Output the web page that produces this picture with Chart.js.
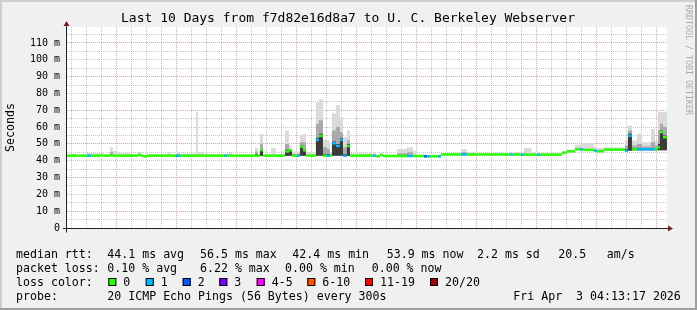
<!DOCTYPE html>
<html>
<head>
<meta charset="utf-8">
<script src="https://cdn.jsdelivr.net/npm/chart.js@4.4.0/dist/chart.umd.min.js"></script>
<style>
    html, body { margin: 0; padding: 0; background: #f0f0f0; }
    canvas { display: block; }
</style>
</head>
<body>
<canvas id="grafico-ping" width="697" height="310"></canvas>
<script>
// hours counted from 24 Mar 00:00, each value holds until the next sample
const hours = [4.2, 8.0, 12.2, 13.8, 17.8, 18.4, 21.4, 22.6, 24.6, 29.4, 32.6, 33.8, 34.6, 36.2, 44.2, 45.8, 47.8, 49.4, 55.8, 56.6, 59.0,
    67.0, 68.2, 70.6, 79.4, 80.6, 81.4, 82.6, 85.8, 87.8, 91.4, 93.0, 94.2, 96.2, 97.4, 98.6, 99.8, 103.8, 105.0, 106.6, 108.2, 109.4, 110.2, 111.8, 113.4, 114.6, 116.2, 117.4,
    126.6, 127.8, 129.4, 130.6, 136.2, 140.2, 142.6, 144.2, 147.0, 148.2, 149.4, 152.6, 153.8, 161.8, 164.2, 168.0, 181.4, 182.6,
    185.8, 187.0, 190.0, 192.2, 193.4, 202.2, 204.2, 207.4, 209.4, 210.6, 215.0, 216.2, 219.0, 227.4, 228.6, 230.2, 232.2, 234.2, 237.8, 239.4, 240.6, 241.4, 242.6, 244.2]

// median rtt in ms
const median = [43.0, 43.0, 43.0, 43.0, 43.5, 43.0, 43.3, 43.0, 43.0, 43.0, 43.5, 43.0, 42.6, 43.0, 43.0, 43.0, 43.0, 43.0, 43.0, 43.0, 43.0,
    43.0, 43.0, 43.0, 43.0, 43.0, 46.4, 43.0, 43.0, 43.0, 45.5, 46.2, 43.0, 43.0, 48.4, 46.2, 43.0, 52.4, 54.8, 43.0, 43.0, 43.0, 50.4, 48.8, 52.4, 43.0, 48.8, 43.0,
    43.0, 42.6, 43.5, 42.8, 42.8, 42.8, 42.8, 42.8, 42.6, 42.6, 42.6, 42.6, 43.7, 43.7, 43.7, 43.7, 43.7, 43.7,
    43.6, 43.6, 43.6, 43.6, 43.6, 44.8, 45.6, 46.8, 46.8, 46.4, 46.0, 45.6, 46.6, 46.0, 54.8, 46.8, 46.8, 46.8, 46.8, 46.8, 48.0, 57.0, 54.0, 54.0]

// lost pings out of 20
const loss = [0, 0, 1, 0, 0, 0, 0, 0, 0, 0, 0, 0, 0, 0, 0, 0, 1, 0, 0, 0, 0,
    1, 0, 0, 0, 0, 0, 0, 0, 0, 0, 0, 0, 1, 0, 0, 0, 1, 0, 0, 1, 0, 1, 1, 1, 1, 0, 0,
    1, 0, 0, 0, 0, 1, 0, 0, 2, 1, 0, 1, 0, 1, 0, 0, 1, 0,
    1, 0, 0, 1, 0, 0, 0, 0, 1, 0, 1, 0, 0, 1, 1, 0, 1, 1, 1, 0, 0, 0, 0, 0]

// smoke (ms): lowest ping, dense core, upper half, highest ping
const smokeLow = [42.6, 42.6, 42.6, 42.6, 42.6, 42.6, 42.6, 42.6, 42.6, 42.6, 42.6, 42.6, 42.2, 42.6, 42.6, 42.6, 42.6, 42.6, 42.6, 42.6, 42.6,
    42.6, 42.6, 42.6, 42.6, 42.6, 43.0, 42.6, 42.6, 42.6, 43.0, 43.0, 42.6, 42.6, 43.0, 43.0, 42.6, 43.0, 43.0, 42.6, 42.6, 42.6, 43.0, 43.0, 43.0, 42.6, 43.0, 42.6,
    42.6, 42.2, 42.6, 42.4, 42.4, 42.4, 42.4, 42.4, 42.2, 42.2, 42.2, 42.2, 43.3, 43.3, 43.3, 43.3, 43.3, 43.3,
    43.2, 43.2, 43.2, 43.2, 43.2, 44.4, 45.0, 46.2, 46.2, 45.8, 45.4, 45.0, 46.0, 45.6, 46.0, 46.2, 46.2, 46.2, 46.2, 46.2, 46.2, 46.2, 46.2, 46.2]

const smokeDense = [42.6, 42.6, 42.6, 42.6, 42.6, 42.6, 42.6, 42.6, 42.6, 42.6, 42.6, 42.6, 42.2, 42.6, 42.6, 42.6, 43.4, 42.6, 42.6, 42.6, 42.6,
    42.6, 42.6, 42.6, 44.0, 42.6, 47.0, 42.6, 42.6, 42.6, 46.5, 46.5, 42.6, 42.6, 49.0, 47.0, 42.6, 53.5, 56.0, 44.0, 44.0, 42.6, 51.5, 50.0, 53.5, 44.0, 50.0, 42.6,
    42.6, 42.2, 42.6, 42.4, 42.4, 42.4, 42.4, 42.4, 42.2, 42.2, 42.2, 42.2, 43.3, 43.3, 43.3, 43.3, 43.3, 43.3,
    43.2, 43.2, 43.2, 43.2, 43.2, 44.4, 45.0, 46.2, 46.2, 45.8, 45.4, 45.0, 46.0, 47.0, 56.0, 47.5, 47.5, 47.5, 47.5, 47.5, 50.0, 58.0, 55.0, 55.0]

const smokeUpper = [42.6, 42.6, 42.6, 42.6, 42.6, 42.6, 45.0, 42.6, 42.6, 42.6, 42.6, 42.6, 42.2, 42.6, 42.6, 42.6, 43.8, 42.6, 42.6, 42.6, 42.6,
    42.6, 42.6, 42.6, 45.5, 42.6, 50.0, 42.6, 42.6, 42.6, 50.0, 47.0, 44.0, 44.0, 51.0, 51.0, 42.6, 62.0, 64.0, 48.0, 47.0, 42.6, 58.0, 60.0, 57.0, 48.0, 52.0, 42.6,
    42.6, 42.2, 42.6, 42.4, 44.5, 45.0, 42.4, 42.4, 42.2, 42.2, 42.2, 42.2, 43.3, 45.0, 43.3, 43.3, 43.3, 43.3,
    43.2, 43.2, 43.2, 43.2, 43.2, 44.4, 45.0, 46.2, 46.2, 45.8, 45.4, 45.0, 46.0, 49.0, 58.0, 49.0, 50.0, 48.5, 51.0, 49.0, 58.0, 62.0, 60.0, 60.0]

const smokeHigh = [44.2, 43.6, 44.6, 44.4, 44.0, 43.8, 48.0, 45.8, 44.6, 44.0, 45.2, 44.0, 43.4, 43.8, 45.0, 44.0, 44.6, 44.3, 69.0, 45.0, 44.0,
    44.0, 44.6, 43.6, 47.4, 44.0, 56.0, 44.0, 47.5, 44.0, 58.0, 49.0, 45.5, 45.0, 55.0, 56.0, 45.0, 74.6, 76.6, 52.4, 52.0, 45.0, 68.0, 73.0, 65.5, 54.0, 58.0, 44.5,
    45.0, 44.0, 44.0, 43.5, 47.0, 48.0, 46.0, 43.5, 43.5, 43.5, 43.5, 43.5, 44.3, 47.0, 45.0, 44.2, 44.5, 45.0,
    44.5, 47.5, 44.5, 44.5, 44.5, 45.5, 46.5, 49.5, 50.0, 50.4, 48.0, 47.5, 47.8, 52.0, 61.0, 52.0, 56.0, 51.0, 59.0, 52.0, 69.0, 69.0, 69.0, 69.0]

const dayLabels = ["24 Mar", "25 Mar", "26 Mar", "27 Mar", "28 Mar", "29 Mar", "30 Mar", "31 Mar", "01 Apr", "02 Apr"]
const yTickValues = [0, 10, 20, 30, 40, 50, 60, 70, 80, 90, 100, 110]
const yTickLabels = ["0", "10 m", "20 m", "30 m", "40 m", "50 m", "60 m", "70 m", "80 m", "90 m", "100 m", "110 m"]

const lossNames = ["0", "1", "2", "3", "4-5", "6-10", "11-19", "20/20"]
const lossColors = ["#26ff00", "#00b8ff", "#0059ff", "#7e00ff", "#ff00ff", "#ff5500", "#ff0000", "#a10000"]

const title = "Last 10 Days from f7d82e16d8a7 to U. C. Berkeley Webserver"
const rttStats = ["44.1 ms avg", "56.5 ms max", "42.4 ms min", "53.9 ms now", "2.2 ms sd", "20.5", "am/s"]
const lossStats = ["0.10 % avg", "6.22 % max", "0.00 % min", "0.00 % now"]
const probeText = "20 ICMP Echo Pings (56 Bytes) every 300s"
const stampText = "Fri Apr  3 04:13:17 2026"

const startHour = 4.22
const endHour = 244.22

const lossClass = n => n <= 3 ? n : n <= 5 ? 4 : n <= 10 ? 5 : n <= 19 ? 6 : 7
const pts = arr => hours.map((h, i) => ({ x: h, y: arr[i] }))

// median drawn as separate flat dashes, no vertical joins
const medianPts = []
hours.forEach((h, i) => {
    const next = i < hours.length - 1 ? hours[i + 1] : endHour
    medianPts.push({ x: h, y: median[i] }, { x: next, y: median[i] }, { x: next, y: null })
})

const mono = '"DejaVu Sans Mono", monospace'

const gridHours = []
for (let h = 6; h <= 240; h += 6) gridHours.push(h)
const yGrid = []
for (let v = 0; v <= 115; v += 5) yGrid.push(v)

const moldura = {
    id: 'moldura',
    beforeDraw(chart) {
        const { ctx, chartArea: a } = chart
        ctx.save()
        ctx.fillStyle = '#f0f0f0'
        ctx.fillRect(0, 0, 697, 310)
        ctx.fillStyle = '#cfcfcf'
        ctx.fillRect(0, 0, 697, 2)
        ctx.fillRect(0, 0, 2, 310)
        ctx.fillStyle = '#9e9e9e'
        ctx.fillRect(0, 308, 697, 2)
        ctx.fillRect(695, 0, 2, 310)
        ctx.fillStyle = '#ffffff'
        ctx.fillRect(a.left, a.top, a.right - a.left, a.bottom - a.top)
        ctx.restore()
    },
    afterDraw(chart) {
        const { ctx, chartArea: a } = chart
        const y0 = Math.round(chart.scales.y.getPixelForValue(0)) + 0.5
        const x0 = a.left - 0.5
        ctx.save()

        // axes
        ctx.strokeStyle = '#202020'
        ctx.lineWidth = 1
        ctx.beginPath()
        ctx.moveTo(a.left - 4, y0)
        ctx.lineTo(a.right + 2, y0)
        ctx.moveTo(x0, y0 + 4)
        ctx.lineTo(x0, a.top - 2)
        ctx.stroke()

        // arrows
        ctx.fillStyle = '#7f1f1f'
        ctx.beginPath()
        ctx.moveTo(x0, a.top - 6)
        ctx.lineTo(x0 - 3, a.top - 1)
        ctx.lineTo(x0 + 3, a.top - 1)
        ctx.closePath()
        ctx.fill()
        ctx.beginPath()
        ctx.moveTo(a.right + 6, y0)
        ctx.lineTo(a.right + 1, y0 - 3)
        ctx.lineTo(a.right + 1, y0 + 3)
        ctx.closePath()
        ctx.fill()

        // title
        ctx.fillStyle = '#000'
        ctx.textBaseline = 'middle'
        ctx.textAlign = 'center'
        ctx.font = '13px ' + mono
        ctx.fillText(title, 348, 19)

        // y axis name
        ctx.save()
        ctx.translate(11, (a.top + a.bottom) / 2)
        ctx.rotate(-Math.PI / 2)
        ctx.font = '11.6px ' + mono
        ctx.fillText('Seconds', 0, 0)
        ctx.restore()

        // watermark
        ctx.save()
        ctx.translate(688, 5)
        ctx.rotate(Math.PI / 2)
        ctx.textAlign = 'left'
        ctx.fillStyle = '#ababab'
        ctx.font = '8.3px ' + mono
        ctx.fillText('RRDTOOL / TOBI OETIKER', 0, 0)
        ctx.restore()

        // legend
        ctx.textAlign = 'left'
        ctx.font = '11.6px ' + mono
        ctx.fillStyle = '#000'
        ctx.fillText('median rtt:', 16, 254.5)
        const rttX = [107.3, 200, 292.3, 386.7, 477, 558.3, 606.7]
        rttStats.forEach((t, i) => ctx.fillText(t, rttX[i], 254.5))

        ctx.fillText('packet loss:', 16, 268.5)
        const lossX = [107.3, 200, 285, 371.7]
        lossStats.forEach((t, i) => ctx.fillText(t, lossX[i], 268.5))

        ctx.fillText('loss color:', 16, 282.5)
        const boxX = [108.3, 145.7, 182.7, 219.3, 256.7, 307.3, 365, 430]
        lossNames.forEach((t, i) => {
            ctx.fillStyle = lossColors[i]
            ctx.fillRect(boxX[i], 278, 8, 8)
            ctx.strokeStyle = '#000'
            ctx.strokeRect(boxX[i] + 0.5, 278.5, 7, 7)
            ctx.fillStyle = '#000'
            ctx.fillText(t, boxX[i] + 15, 282.5)
        })

        ctx.fillText('probe:', 16, 296.5)
        ctx.fillText(probeText, 107.3, 296.5)
        ctx.fillText(stampText, 513.3, 296.5)
        ctx.restore()
    }
}

const smokeBase = {
    pointRadius: 0,
    pointHoverRadius: 0,
    borderWidth: 0,
    borderColor: 'transparent',
    stepped: true
}

let myChartPing = new Chart(
    document.getElementById("grafico-ping"),
    {
        type: "line",
        data: {
            datasets: [{
                label: "median",
                data: medianPts,
                pointRadius: 0,
                pointHoverRadius: 0,
                borderWidth: 2.5,
                borderCapStyle: 'butt',
                spanGaps: false,
                fill: false,
                segment: {
                    borderColor: c => lossColors[lossClass(loss[Math.floor(c.p0DataIndex / 3)])]
                }
            }, {
                ...smokeBase,
                label: "smoke dense",
                data: pts(smokeDense),
                fill: 4,
                backgroundColor: 'rgba(40, 40, 40, 0.85)'
            }, {
                ...smokeBase,
                label: "smoke upper",
                data: pts(smokeUpper),
                fill: 4,
                backgroundColor: '#a9a9a9'
            }, {
                ...smokeBase,
                label: "smoke",
                data: pts(smokeHigh),
                fill: 4,
                backgroundColor: '#dadada'
            }, {
                ...smokeBase,
                label: "smoke low",
                data: pts(smokeLow),
                fill: false
            }]
        },
        options: {
            responsive: false,
            animation: false,
            devicePixelRatio: 1,
            layout: { padding: { top: 27, right: 30, bottom: 82, left: 0 } },
            plugins: {
                legend: { display: false },
                tooltip: { enabled: false }
            },
            scales: {
                x: {
                    type: 'linear',
                    min: startHour,
                    max: endHour,
                    afterBuildTicks: s => { s.ticks = gridHours.map(v => ({ value: v })) },
                    afterFit: s => { s.height = 0 },
                    grid: {
                        drawTicks: false,
                        color: c => c.tick && c.tick.value % 24 === 0 ? 'rgba(215, 90, 90, 0.55)' : 'rgba(140, 140, 140, 0.5)'
                    },
                    border: { display: false, dash: [1, 1] },
                    ticks: {
                        autoSkip: false,
                        maxRotation: 0,
                        padding: 5,
                        color: '#000',
                        font: { family: mono, size: 10 },
                        callback: v => v % 24 === 12 ? dayLabels[(v - 12) / 24] : ''
                    }
                },
                y: {
                    min: 0,
                    max: 119.5,
                    afterBuildTicks: s => { s.ticks = yGrid.map(v => ({ value: v })) },
                    afterFit: s => { s.width = 67 },
                    grid: {
                        drawTicks: false,
                        color: c => c.tick && c.tick.value % 20 === 10 ? 'rgba(215, 90, 90, 0.55)' : 'rgba(140, 140, 140, 0.5)'
                    },
                    border: { display: false, dash: [1, 1] },
                    ticks: {
                        autoSkip: false,
                        padding: 7,
                        color: '#000',
                        font: { family: mono, size: 10 },
                        callback: v => {
                            const i = yTickValues.indexOf(v)
                            return i >= 0 ? yTickLabels[i] : ''
                        }
                    }
                }
            }
        },
        plugins: [moldura]
    }
)
</script>
</body>
</html>
